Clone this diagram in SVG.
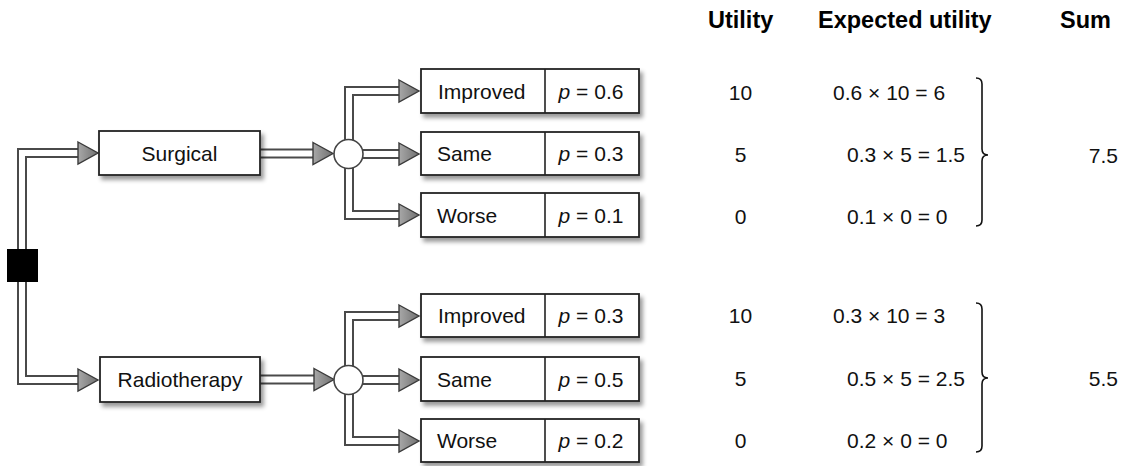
<svg xmlns="http://www.w3.org/2000/svg" xmlns:xlink="http://www.w3.org/1999/xlink" width="1121" height="466" viewBox="0 0 1121 466">
<style>
.box{fill:#fff;stroke:#222;stroke-width:1.8;filter:url(#sh)}
.div{stroke:#222;stroke-width:1.6}
.t{font-family:"Liberation Sans",Arial,sans-serif;font-size:21px;fill:#111}
.h{font-family:"Liberation Sans",Arial,sans-serif;font-size:23.5px;font-weight:bold;fill:#000}
.pipeO{fill:none;stroke:#4a4a4a;stroke-width:10;stroke-linejoin:miter}
.pipeI{fill:none;stroke:#fff;stroke-width:6;stroke-linejoin:miter}
.chance{fill:#fff;stroke:#444;stroke-width:1.6}
.brace{fill:none;stroke:#111;stroke-width:1.6}
</style>
<defs>
<filter id="sh" x="-10%" y="-20%" width="125%" height="160%">
<feDropShadow dx="3" dy="4" stdDeviation="2" flood-color="#000" flood-opacity="0.4"/>
</filter>
<linearGradient id="ag" x1="0" y1="0" x2="1" y2="0">
<stop offset="0" stop-color="#a8a8a8"/>
<stop offset="1" stop-color="#707070"/>
</linearGradient>
<path id="ah" d="M-20,-11 L0,0 L-20,11 Z" fill="url(#ag)" stroke="#3a3a3a" stroke-width="1.4" stroke-linejoin="miter"/>
</defs>
<rect width="1121" height="466" fill="#fff"/>

<g id="connectors">
<path class="pipeO" d="M22,265 V153 H80 M22,265 V380 H80 M259,153.5 H314 M259,379.5 H315 M349,154 V91 H400 M349,154 H400 M349,154 V215 H400 M349,380 V316 H400 M349,380 H400 M349,380 V441 H400"/>
<path class="pipeI" d="M22,265 V153 H81 M22,265 V380 H81 M259,153.5 H315 M259,379.5 H316 M349,154 V91 H401 M349,154 H401 M349,154 V215 H401 M349,380 V316 H401 M349,380 H401 M349,380 V441 H401"/>
<use href="#ah" transform="translate(98,153)"/>
<use href="#ah" transform="translate(98,380)"/>
<use href="#ah" transform="translate(333,153.5)"/>
<use href="#ah" transform="translate(334,379.5)"/>
<use href="#ah" transform="translate(419,91)"/>
<use href="#ah" transform="translate(419,154)"/>
<use href="#ah" transform="translate(419,215)"/>
<use href="#ah" transform="translate(419,316)"/>
<use href="#ah" transform="translate(419,380)"/>
<use href="#ah" transform="translate(419,441)"/>
</g>

<g id="decision">
<rect x="7" y="249" width="31" height="33" fill="#000"/>
</g>

<g id="surgical">
<rect class="box" x="99" y="131" width="161" height="44"/>
<text class="t" x="179.5" y="161" text-anchor="middle">Surgical</text>
</g>
<g id="radiotherapy">
<rect class="box" x="100" y="357" width="160" height="45"/>
<text class="t" x="180" y="387" text-anchor="middle">Radiotherapy</text>
</g>

<g id="chance1"><circle class="chance" cx="348.5" cy="154" r="14.5"/></g>
<g id="chance2"><circle class="chance" cx="348.5" cy="380" r="14.5"/></g>

<g id="s-improved">
<rect class="box" x="421" y="69" width="218" height="44"/>
<line class="div" x1="545" y1="69" x2="545" y2="113"/>
<text class="t" x="438" y="98.5">Improved</text>
<text class="t" x="591" y="98.5" text-anchor="middle"><tspan font-style="italic">p</tspan> = 0.6</text>
</g>
<g id="s-same">
<rect class="box" x="421" y="132" width="218" height="43"/>
<line class="div" x1="545" y1="132" x2="545" y2="175"/>
<text class="t" x="437" y="161">Same</text>
<text class="t" x="591" y="161" text-anchor="middle"><tspan font-style="italic">p</tspan> = 0.3</text>
</g>
<g id="s-worse">
<rect class="box" x="421" y="193" width="218" height="44"/>
<line class="div" x1="545" y1="193" x2="545" y2="237"/>
<text class="t" x="437" y="222.5">Worse</text>
<text class="t" x="591" y="222.5" text-anchor="middle"><tspan font-style="italic">p</tspan> = 0.1</text>
</g>

<g id="r-improved">
<rect class="box" x="421" y="294" width="218" height="43"/>
<line class="div" x1="545" y1="294" x2="545" y2="337"/>
<text class="t" x="438" y="323">Improved</text>
<text class="t" x="591" y="323" text-anchor="middle"><tspan font-style="italic">p</tspan> = 0.3</text>
</g>
<g id="r-same">
<rect class="box" x="421" y="357" width="218" height="44"/>
<line class="div" x1="545" y1="357" x2="545" y2="401"/>
<text class="t" x="437" y="386.5">Same</text>
<text class="t" x="591" y="386.5" text-anchor="middle"><tspan font-style="italic">p</tspan> = 0.5</text>
</g>
<g id="r-worse">
<rect class="box" x="421" y="419" width="218" height="43"/>
<line class="div" x1="545" y1="419" x2="545" y2="462"/>
<text class="t" x="437" y="448">Worse</text>
<text class="t" x="591" y="448" text-anchor="middle"><tspan font-style="italic">p</tspan> = 0.2</text>
</g>

<g id="headings">
<text class="h" x="708" y="28">Utility</text>
<text class="h" x="818" y="28">Expected utility</text>
<text class="h" x="1060" y="28">Sum</text>
</g>

<g id="table-surgical">
<text class="t" x="740.5" y="99.5" text-anchor="middle">10</text>
<text class="t" x="833" y="99.5">0.6 × 10 = 6</text>
<text class="t" x="740.5" y="162" text-anchor="middle">5</text>
<text class="t" x="847" y="162">0.3 × 5 = 1.5</text>
<text class="t" x="740.5" y="223.5" text-anchor="middle">0</text>
<text class="t" x="847" y="223.5">0.1 × 0 = 0</text>
<path class="brace" d="M976,78 Q982,78 982,84 L982,149 Q982,155 988,155 Q982,155 982,161 L982,220 Q982,226 976,226"/>
<text class="t" x="1118" y="162.5" text-anchor="end">7.5</text>
</g>

<g id="table-radio">
<text class="t" x="740.5" y="323" text-anchor="middle">10</text>
<text class="t" x="833" y="323">0.3 × 10 = 3</text>
<text class="t" x="740.5" y="386" text-anchor="middle">5</text>
<text class="t" x="847" y="386">0.5 × 5 = 2.5</text>
<text class="t" x="740.5" y="447.5" text-anchor="middle">0</text>
<text class="t" x="847" y="447.5">0.2 × 0 = 0</text>
<path class="brace" d="M976,303 Q982,303 982,309 L982,372 Q982,378 988,378 Q982,378 982,384 L982,446 Q982,452 976,452"/>
<text class="t" x="1118" y="386" text-anchor="end">5.5</text>
</g>
</svg>
